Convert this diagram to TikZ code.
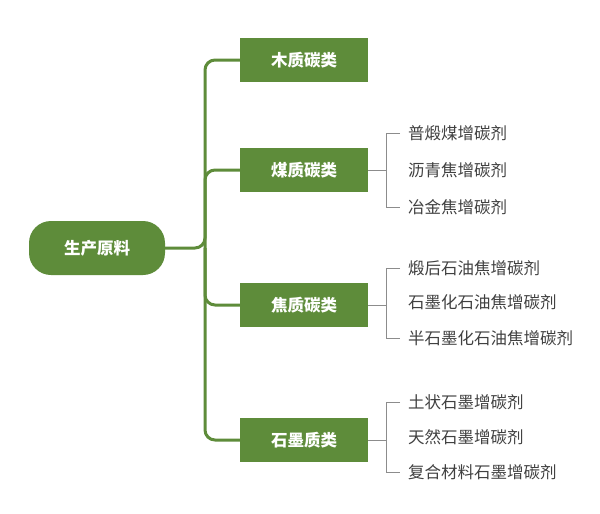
\documentclass[tikz,border=0pt]{standalone}
\usepackage{fontspec}
\setmainfont{Noto Sans CJK SC}
\begin{document}
\begin{tikzpicture}[x=1pt,y=-1pt,
  br/.style={fill=grn,text=white,minimum width=128pt,minimum height=44pt,font=\fontsize{16.5}{18}\selectfont\bfseries,inner sep=0pt},
  leaf/.style={anchor=west,text=black!75,font=\fontsize{16.5}{18}\selectfont,inner sep=0pt},
  conn/.style={draw=grn,line width=3pt,rounded corners=10pt},
  brk/.style={draw=black!45,line width=0.8pt}]
\definecolor{grn}{HTML}{5E8C3A}
\useasboundingbox (0,0) rectangle (600,514);
\node[fill=grn,text=white,rounded corners=22pt,minimum width=136pt,minimum height=54pt,font=\fontsize{16.5}{18}\selectfont\bfseries,inner sep=0pt] (root) at (97,248) {生产原料};
\node[br] (m1) at (304,60) {木质碳类};
\node[br] (m2) at (304,170) {煤质碳类};
\node[br] (m3) at (304,305) {焦质碳类};
\node[br] (m4) at (304,440) {石墨质类};
\coordinate (j) at (205,248);
\draw[conn] (root.east) -- (j) |- (m1.west);
\draw[conn] (j) |- (m4.west);
\draw[conn] (j) |- (m2.west);
\draw[conn] (j) |- (m3.west);
\foreach \g/\ya/\yb/\yc/\ta/\tb/\tc in {
 la/133/170/207/普煅煤增碳剂/沥青焦增碳剂/冶金焦增碳剂,
 lb/268/302/338/煅后石油焦增碳剂/石墨化石油焦增碳剂/半石墨化石油焦增碳剂,
 lc/402/437/472/土状石墨增碳剂/天然石墨增碳剂/复合材料石墨增碳剂}{
  \node[leaf] (\g1) at (408,\ya) {\ta};
  \node[leaf] (\g2) at (408,\yb) {\tb};
  \node[leaf] (\g3) at (408,\yc) {\tc};
  \draw[brk] ([xshift=-8pt]\g1.west) -- ++(-14,0) |- ([xshift=-8pt]\g3.west);
}
\draw[brk] (m2.east) -- (m2.east -| 386,0);
\draw[brk] (m3.east) -- (m3.east -| 386,0);
\draw[brk] (m4.east) -- (m4.east -| 386,0);
\end{tikzpicture}
\end{document}
